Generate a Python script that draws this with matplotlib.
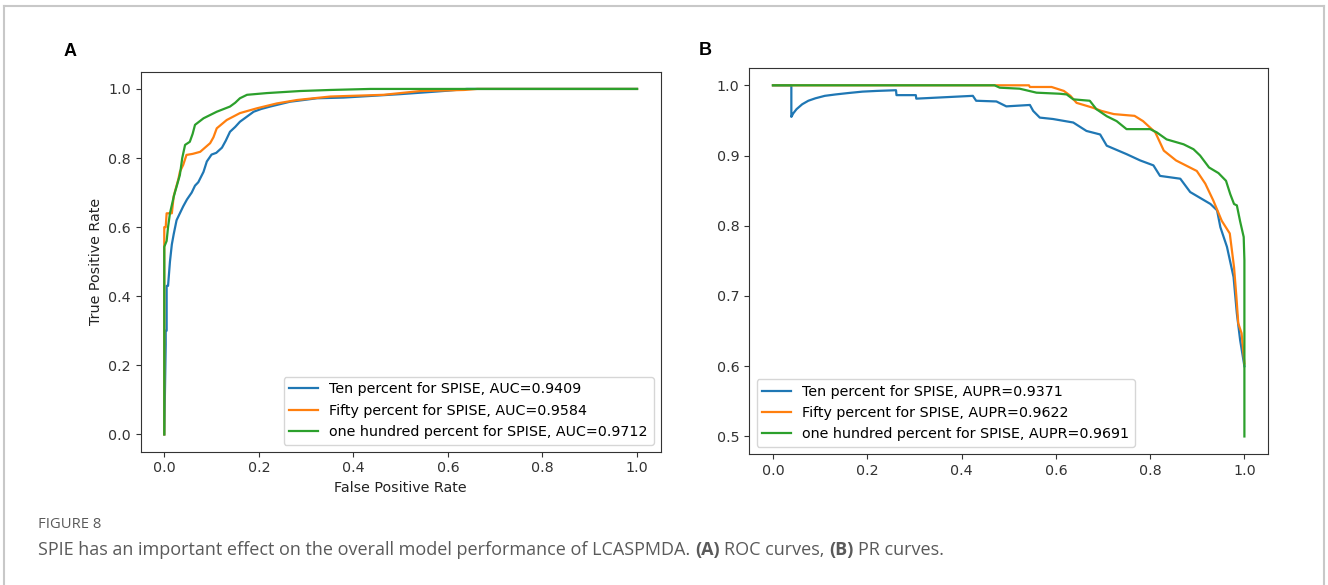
import matplotlib
matplotlib.use("Agg")
import matplotlib.pyplot as plt
from matplotlib.lines import Line2D

plt.rcParams.update({
    'font.family': 'DejaVu Sans',
    'font.size': 10.3,
    'axes.labelsize': 10.3,
    'xtick.labelsize': 10.3,
    'ytick.labelsize': 10.3,
    'legend.fontsize': 10.3,
    'lines.linewidth': 1.6,
    'axes.edgecolor': '#333333',
    'xtick.color': '#333333',
    'ytick.color': '#333333',
    'axes.labelcolor': '#222222',
})

# ROC curves (panel A)
roc_ten_fpr = [0.0, 0.003, 0.003, 0.005, 0.005, 0.008, 0.012, 0.016, 0.020, 0.026, 0.033, 0.040, 0.048,
               0.058, 0.065, 0.072, 0.083, 0.090, 0.100, 0.110, 0.122, 0.130, 0.139, 0.150, 0.160, 0.175,
               0.189, 0.205, 0.224, 0.245, 0.266, 0.295, 0.323, 0.379, 0.440, 0.500, 0.571, 0.600, 0.640, 1.0]
roc_ten_tpr = [0.0, 0.26, 0.30, 0.30, 0.43, 0.43, 0.50, 0.55, 0.58, 0.62, 0.64, 0.66, 0.68,
               0.70, 0.72, 0.73, 0.76, 0.79, 0.81, 0.815, 0.83, 0.85, 0.876, 0.89, 0.905, 0.92,
               0.934, 0.942, 0.949, 0.956, 0.963, 0.968, 0.973, 0.975, 0.980, 0.985, 0.992, 0.995, 1.0, 1.0]

roc_fifty_fpr = [0.0, 0.0, 0.0, 0.003, 0.005, 0.016, 0.020, 0.026, 0.030, 0.033, 0.040, 0.047, 0.060,
                 0.076, 0.097, 0.104, 0.111, 0.132, 0.160, 0.196, 0.238, 0.281, 0.351, 0.464, 0.542,
                 0.634, 0.662, 1.0]
roc_fifty_tpr = [0.0, 0.38, 0.60, 0.60, 0.64, 0.64, 0.69, 0.72, 0.74, 0.76, 0.78, 0.809, 0.812,
                 0.818, 0.843, 0.86, 0.886, 0.910, 0.930, 0.944, 0.958, 0.968, 0.978, 0.983, 0.994,
                 0.997, 1.0, 1.0]

roc_hundred_fpr = [0.0, 0.0, 0.005, 0.008, 0.012, 0.020, 0.023, 0.026, 0.033, 0.038, 0.044, 0.054,
                   0.060, 0.065, 0.083, 0.111, 0.139, 0.150, 0.160, 0.175, 0.217, 0.288, 0.351,
                   0.436, 1.0]
roc_hundred_tpr = [0.0, 0.543, 0.56, 0.60, 0.64, 0.688, 0.703, 0.717, 0.751, 0.80, 0.838, 0.847,
                   0.87, 0.896, 0.915, 0.934, 0.949, 0.96, 0.973, 0.983, 0.988, 0.994, 0.997,
                   1.0, 1.0]

roc_labels = ["Ten percent for SPISE, AUC=0.9409",
              "Fifty percent for SPISE, AUC=0.9584",
              "one hundred percent for SPISE, AUC=0.9712"]

# PR curves (panel B)
pr_ten_recall = [0.0, 0.039, 0.039, 0.043, 0.050, 0.062, 0.075, 0.090, 0.110, 0.133, 0.160, 0.190,
                 0.220, 0.261, 0.262, 0.303, 0.304, 0.424, 0.431, 0.474, 0.495, 0.545, 0.552, 0.566,
                 0.594, 0.637, 0.665, 0.694, 0.708, 0.750, 0.779, 0.807, 0.821, 0.864, 0.885, 0.928,
                 0.942, 0.949, 0.963, 0.977, 0.984, 0.991, 1.0]
pr_ten_precision = [1.0, 1.0, 0.955, 0.960, 0.966, 0.973, 0.978, 0.9815, 0.985, 0.987, 0.989, 0.991,
                    0.992, 0.993, 0.986, 0.986, 0.981, 0.985, 0.978, 0.977, 0.970, 0.972, 0.9635, 0.954,
                    0.952, 0.947, 0.935, 0.930, 0.914, 0.902, 0.893, 0.886, 0.871, 0.867, 0.848, 0.831,
                    0.822, 0.798, 0.770, 0.727, 0.675, 0.637, 0.60]

pr_fifty_recall = [0.0, 0.543, 0.545, 0.591, 0.617, 0.631, 0.644, 0.679, 0.697, 0.723, 0.767, 0.785,
                   0.811, 0.829, 0.855, 0.899, 0.917, 0.934, 0.952, 0.969, 0.978, 0.983, 0.987,
                   0.994, 1.0]
pr_fifty_precision = [1.0, 1.0, 0.9976, 0.9976, 0.992, 0.985, 0.975, 0.968, 0.9635, 0.959, 0.9565,
                      0.949, 0.933, 0.907, 0.893, 0.878, 0.860, 0.836, 0.807, 0.789, 0.741, 0.699,
                      0.661, 0.647, 0.604]

pr_hundred_recall = [0.0, 0.470, 0.481, 0.523, 0.537, 0.559, 0.608, 0.623, 0.637, 0.672, 0.686, 0.708,
                     0.729, 0.750, 0.800, 0.814, 0.835, 0.871, 0.892, 0.906, 0.925, 0.945, 0.961,
                     0.970, 0.978, 0.984, 0.991, 0.9985, 1.0, 1.0]
pr_hundred_precision = [1.0, 1.0, 0.9966, 0.9952, 0.993, 0.9895, 0.988, 0.987, 0.980, 0.978, 0.966,
                        0.956, 0.949, 0.9376, 0.9376, 0.933, 0.923, 0.916, 0.909, 0.900, 0.883, 0.875,
                        0.864, 0.845, 0.831, 0.829, 0.806, 0.784, 0.751, 0.5]

pr_labels = ["Ten percent for SPISE, AUPR=0.9371",
             "Fifty percent for SPISE, AUPR=0.9622",
             "one hundred percent for SPISE, AUPR=0.9691"]

colors = ["#1f77b4", "#ff7f0e", "#2ca02c"]

fig = plt.figure(figsize=(13.28, 5.85), dpi=100)

# Panel A: ROC
ax_a = fig.add_axes([0.1059, 0.2279, 0.3916, 0.6496])
roc_data = [(roc_ten_fpr, roc_ten_tpr), (roc_fifty_fpr, roc_fifty_tpr), (roc_hundred_fpr, roc_hundred_tpr)]
for (x, y), label, color in zip(roc_data, roc_labels, colors):
  ax_a.plot(x, y, color=color, label=label)
ax_a.set_xlabel("False Positive Rate")
ax_a.set_ylabel("True Positive Rate")
ax_a.legend(loc="lower right")

# Panel B: PR
ax_b = fig.add_axes([0.5643, 0.2239, 0.3905, 0.6603])
pr_data = [(pr_ten_recall, pr_ten_precision), (pr_fifty_recall, pr_fifty_precision),
           (pr_hundred_recall, pr_hundred_precision)]
for (x, y), label, color in zip(pr_data, pr_labels, colors):
  ax_b.plot(x, y, color=color, label=label)
ax_b.set_yticks([0.5, 0.6, 0.7, 0.8, 0.9, 1.0])
ax_b.legend(loc="lower left")

# Panel letters
fig.text(70 / 1328, 1 - 51.7 / 585, "A", fontsize=13, fontweight="bold", family="Liberation Sans",
         ha="center", va="center")
fig.text(704.8 / 1328, 1 - 50.7 / 585, "B", fontsize=13, fontweight="bold", family="Liberation Sans",
         ha="center", va="center")

# Outer frame (top, left, right)
frame_kw = dict(color="#c8c8c8", lw=1.5, transform=fig.transFigure)
fig.add_artist(Line2D([4 / 1328, 1324 / 1328], [1 - 6 / 585, 1 - 6 / 585], **frame_kw))
fig.add_artist(Line2D([4 / 1328, 4 / 1328], [0, 1 - 6 / 585], **frame_kw))
fig.add_artist(Line2D([1324 / 1328, 1324 / 1328], [0, 1 - 6 / 585], **frame_kw))

# Caption
cap_kw = dict(family="Open Sans", color="#5a5a5a")
fig.text(38 / 1328, 1 - 525 / 585, "FIGURE 8", fontsize=10.6, va="center", **cap_kw)
caption_pieces = [("SPIE has an important effect on the overall model performance of LCASPMDA.", "normal"),
                  ("(A)", "bold"), ("ROC curves,", "normal"), ("(B)", "bold"), ("PR curves.", "normal")]
renderer = fig.canvas.get_renderer()
x_px = 38
for txt, weight in caption_pieces:
  t = fig.text(x_px / 1328, 1 - 555 / 585, txt, fontsize=13, fontweight=weight, va="baseline", **cap_kw)
  x_px = t.get_window_extent(renderer).x1 + 4.5

fig.savefig("out.png", dpi=100)
